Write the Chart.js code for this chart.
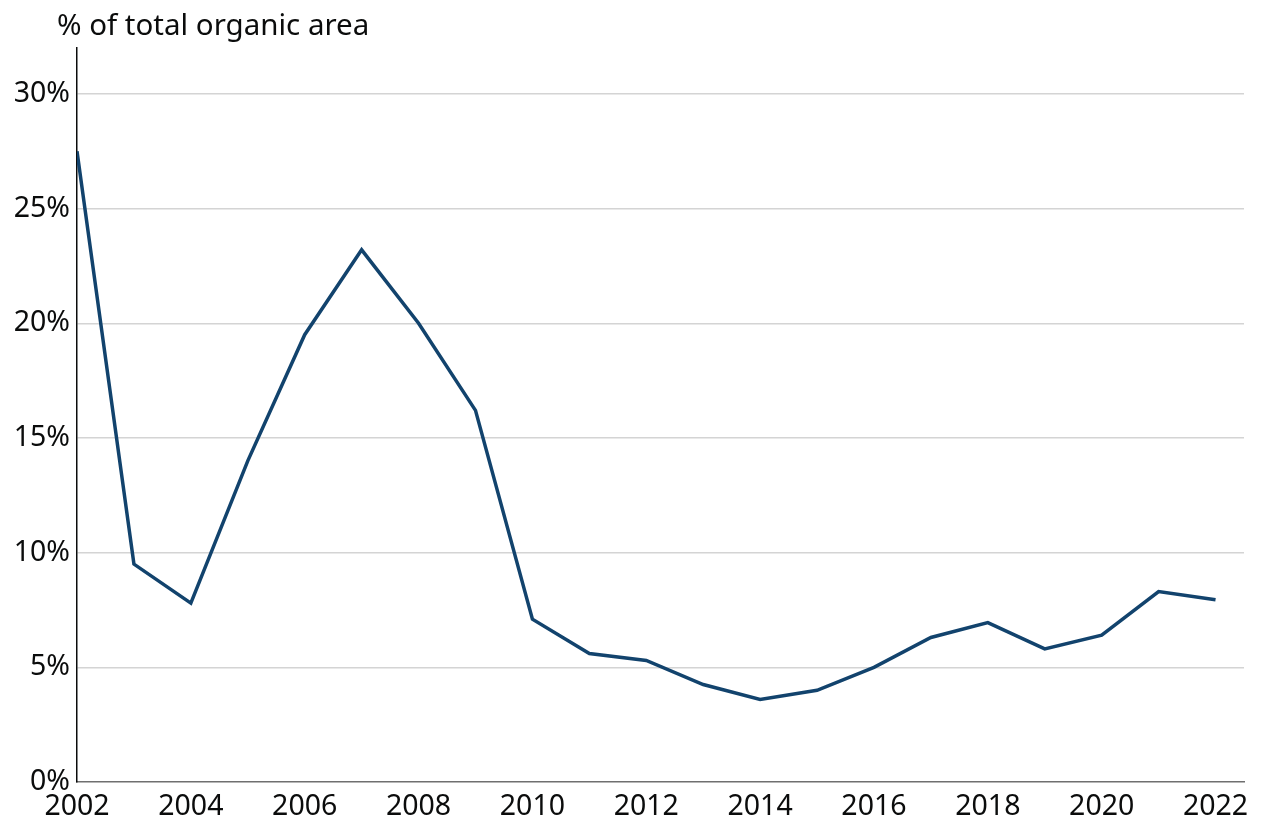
<!DOCTYPE html>
<html>
<head>
<meta charset="utf-8">
<script src="https://cdn.jsdelivr.net/npm/chart.js@4"></script>
<style>
  body { margin: 0; background: #fff; }
  canvas { display: block; }
</style>
</head>
<body>
<canvas id="chart" width="1262" height="820"></canvas>
<script>
// Share of total organic area in conversion, by year
const years = [2002, 2003, 2004, 2005, 2006, 2007, 2008, 2009, 2010, 2011, 2012,
  2013, 2014, 2015, 2016, 2017, 2018, 2019, 2020, 2021, 2022];
const shareValues = [27.5, 9.5, 7.8, 14.0, 19.5, 23.2, 20.0, 16.2, 7.1, 5.6, 5.3,
  4.25, 3.6, 4.0, 5.0, 6.3, 6.95, 5.8, 6.4, 8.3, 7.95];
const yTicks = [0, 5, 10, 15, 20, 25, 30];
const xTicks = [2002, 2004, 2006, 2008, 2010, 2012, 2014, 2016, 2018, 2020, 2022];
const axisTitle = '% of total organic area';

const fontFamily = '"Noto Sans", sans-serif';

// draws the axis title above the y axis
const axisTitlePlugin = {
  id: 'axisTitle',
  afterDraw(chart) {
    const ctx = chart.ctx;
    const area = chart.chartArea;
    ctx.save();
    ctx.font = '29.5px ' + fontFamily;
    ctx.fillStyle = '#0b0c0c';
    ctx.textAlign = 'left';
    ctx.textBaseline = 'alphabetic';
    ctx.fillText(axisTitle, area.left - 20, area.top - 13);
    ctx.restore();
  }
};

function createShareChart(canvasId) {
  const ctx = document.getElementById(canvasId).getContext('2d');

  return new Chart(ctx, {
    type: 'line',
    data: {
      datasets: [{
        label: axisTitle,
        data: years.map((y, i) => ({ x: y, y: shareValues[i] })),
        borderColor: '#12436d',
        borderWidth: 3.5,
        pointRadius: 0,
        tension: 0,
        fill: false
      }]
    },
    options: {
      responsive: false, // fixed size canvas
      animation: false,
      layout: {
        padding: { top: 48, left: 10, right: 18, bottom: 0 }
      },
      plugins: {
        legend: { display: false },
        tooltip: { enabled: false }
      },
      scales: {
        x: {
          type: 'linear',
          min: 2002,
          max: 2022.5,
          afterBuildTicks: axis => {
            axis.ticks = xTicks.map(v => ({ value: v }));
          },
          afterFit: scale => { scale.height = 38; },
          ticks: {
            autoSkip: false,
            maxRotation: 0,
            padding: 8,
            color: '#0b0c0c',
            font: { family: fontFamily, size: 28.5 },
            callback: value => String(value)
          },
          grid: { display: false, drawTicks: false },
          border: { display: true, color: '#6f6f6f', width: 1.5 }
        },
        y: {
          min: 0,
          max: 32,
          afterBuildTicks: axis => {
            axis.ticks = yTicks.map(v => ({ value: v }));
          },
          afterFit: scale => { scale.width = 67; },
          ticks: {
            padding: 7,
            color: '#0b0c0c',
            font: { family: fontFamily, size: 28.5 },
            callback: value => value + '%'
          },
          grid: {
            drawTicks: false,
            color: ctx => ctx.tick && ctx.tick.value === 0 ? 'rgba(0,0,0,0)' : '#d4d4d4',
            lineWidth: 1.5
          },
          border: { display: true, color: '#0b0c0c', width: 1.5 }
        }
      }
    },
    plugins: [axisTitlePlugin]
  });
}

createShareChart('chart');
</script>
</body>
</html>
